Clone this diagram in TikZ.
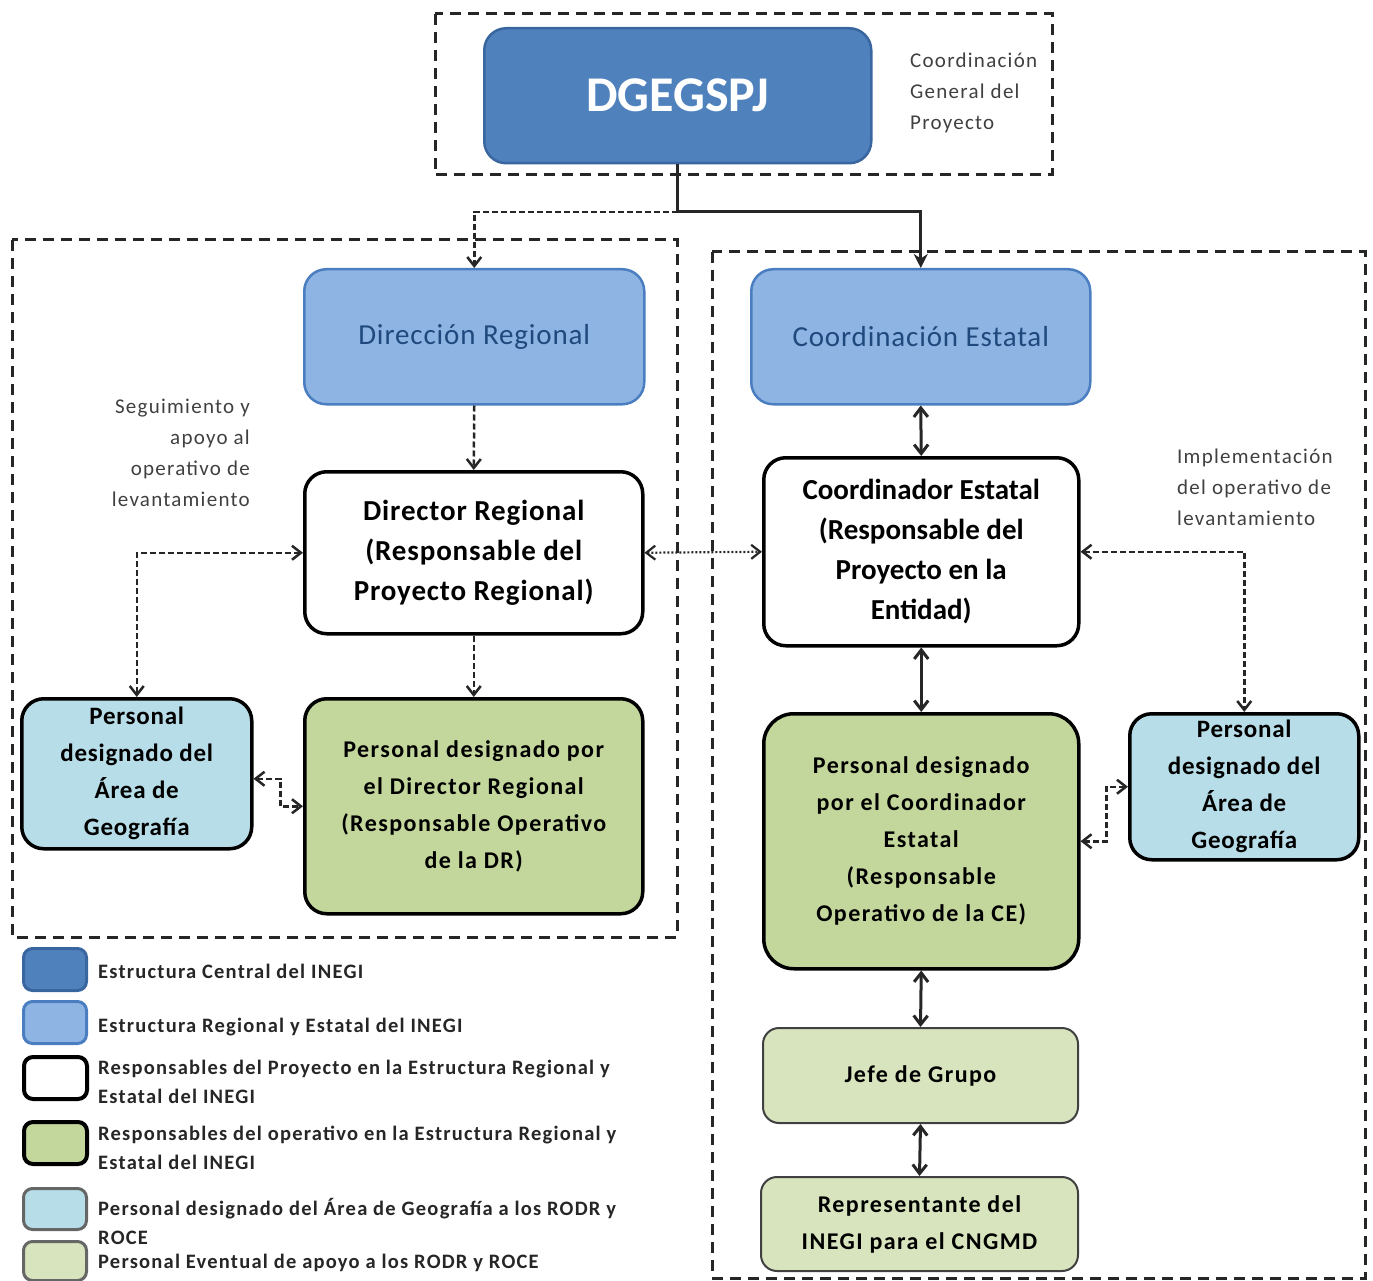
\documentclass[tikz,border=0pt]{standalone}
\usepackage{fontspec}
\setmainfont{Carlito}
\newfontfamily\wa[LetterSpace=6]{Carlito}
\newfontfamily\wb[LetterSpace=3]{Carlito}
\usetikzlibrary{arrows.meta}
\definecolor{dblue}{HTML}{4F81BD}
\definecolor{dblueb}{HTML}{3A66A0}
\definecolor{lblue}{HTML}{8EB4E3}
\definecolor{lblueb}{HTML}{4A7EC0}
\definecolor{txtblue}{HTML}{1F497D}
\definecolor{geo}{HTML}{B7DDE8}
\definecolor{opg}{HTML}{C3D69B}
\definecolor{lgreen}{HTML}{D7E4BD}
\definecolor{annot}{HTML}{404040}
\begin{document}
\begin{tikzpicture}[x=1pt,y=-1pt,
  box/.style={rounded corners=22, line width=3.5, align=center, inner sep=2, anchor=north west, text=black},
  dbox/.style={box, fill=dblue, draw=dblueb, line width=2.5, text=white},
  lbbox/.style={box, fill=lblue, draw=lblueb, line width=2.5, text=txtblue},
  wbox/.style={box, fill=white, draw=black},
  gbox/.style={box, fill=opg, draw=black},
  geobox/.style={box, fill=geo, draw=black},
  lgbox/.style={box, fill=lgreen, draw=black!75, line width=2, rounded corners=16},
  frame/.style={draw=black!85, line width=3, dash pattern=on 11pt off 7pt},
  dline/.style={draw=black!85, line width=2.5, dash pattern=on 6pt off 3pt},
  sline/.style={draw=black!85, line width=3},
  oline/.style={draw=black!85, line width=2.2, dash pattern=on 2pt off 2pt},
  tip/.style={-{Straight Barb[length=9pt,width=14pt]}},
  btip/.style={{Straight Barb[length=9pt,width=14pt]}-{Straight Barb[length=9pt,width=14pt]}},
  ann/.style={text=annot, font=\wa\fontsize{21}{31}\selectfont, inner sep=0},
  legt/.style={anchor=west, inner sep=0, font=\wa\bfseries\fontsize{20.5}{29}\selectfont, text=black!85, align=left},
  leg/.style={anchor=north west, rounded corners=9, minimum width=63, minimum height=42, line width=3}
]
\useasboundingbox (0,0) rectangle (1373,1281);

% dashed frames
\draw[frame] (435,14) rectangle (1052,175);
\draw[frame] (12,240) rectangle (677,937);
\draw[frame] (712,252) rectangle (1365,1278);

% top
\node[dbox, minimum width=387, minimum height=135, font=\bfseries\fontsize{50}{50}\selectfont] (dg) at (483,27) {DGEGSPJ};
\node[ann, anchor=north west, align=left] (cgp) at (910,53) {Coordinación\\General del\\Proyecto};

% second row
\node[lbbox, minimum width=340, minimum height=135, font=\wb\fontsize{29}{36}\selectfont] (dirreg) at (303,268) {Dirección Regional};
\node[lbbox, minimum width=339, minimum height=135, font=\wb\fontsize{29}{36}\selectfont] (coest) at (750,268) {Coordinación Estatal};

% responsables
\node[wbox, minimum width=338, minimum height=162, font=\wb\bfseries\fontsize{29}{40}\selectfont] (drr) at (303,470) {Director Regional\\(Responsable del\\Proyecto Regional)};
\node[wbox, minimum width=315, minimum height=188, font=\bfseries\fontsize{29}{40}\selectfont] (coe) at (762,456) {Coordinador Estatal\\(Responsable del\\Proyecto en la\\Entidad)};

% operativo
\node[gbox, minimum width=338, minimum height=215, font=\wa\bfseries\fontsize{24}{37}\selectfont] (pdr) at (303,697) {Personal designado por\\el Director Regional\\(Responsable Operativo\\de la DR)};
\node[gbox, minimum width=315, minimum height=255, rounded corners=30, font=\wa\bfseries\fontsize{24}{37}\selectfont] (pce) at (762,712) {Personal designado\\por el Coordinador\\Estatal\\(Responsable\\Operativo de la CE)};

% geografia
\node[geobox, minimum width=230, minimum height=150, font=\wb\bfseries\fontsize{25}{37}\selectfont] (geol) at (20,697) {Personal\\designado del\\Área de\\Geografía};
\node[geobox, minimum width=229, minimum height=146, font=\wb\bfseries\fontsize{25}{37}\selectfont] (geor) at (1128,712) {Personal\\designado del\\Área de\\Geografía};

% eventual
\node[lgbox, minimum width=315, minimum height=95, font=\wa\bfseries\fontsize{24}{37}\selectfont] (jefe) at (762,1027) {Jefe de Grupo};
\node[lgbox, minimum width=317, minimum height=94, font=\wa\bfseries\fontsize{24}{37}\selectfont] (rep) at (760,1176) {Representante del\\INEGI para el CNGMD};

% annotations
\node[ann, anchor=north east, align=right] (seg) at (250,399) {Seguimiento y\\apoyo al\\operativo de\\levantamiento};
\node[ann, anchor=north west, align=left] (impl) at (1177,449) {Implementación\\del operativo de\\levantamiento};

% connectors
\coordinate (j) at (dg.south |- 0,212);
\draw[sline] (dg.south) -- (j);
\draw[sline, -{Stealth[length=14pt,width=14pt]}] (j) -| (coest.north);
\draw[dline, tip] (j) -| (dirreg.north);
\draw[dline, tip] (dirreg.south) -- (drr.north);
\draw[sline, btip] (coest.south) -- (coe.north);
\draw[oline, btip] (drr.east) -- (coe.west);
\draw[dline, btip] (drr.west) -| (geol.north);
\draw[dline, tip] (drr.south) -- (pdr.north);
\draw[dline, btip] ([yshift=-5]geol.east) -- ++(27,0) |- (pdr.west);
\draw[dline, btip] (coe.east) -| (geor.north);
\draw[sline, btip] (coe.south) -- (pce.north);
\draw[dline, btip] (pce.east) -- ++(26,0) |- (geor.west);
\draw[sline, btip] (pce.south) -- (jefe.north);
\draw[sline, btip] (jefe.south) -- (rep.north);

% legend
\node[leg, fill=dblue, draw=dblueb] (l1) at (22,947) {};
\node[leg, fill=lblue, draw=lblueb] (l2) at (22,1000) {};
\node[leg, fill=white, draw=black, line width=4] (l3) at (22,1055) {};
\node[leg, fill=opg, draw=black, line width=4] (l4) at (22,1120) {};
\node[leg, fill=geo, draw=black!60, minimum height=41] (l5) at (22,1187) {};
\node[leg, fill=lgreen, draw=black!60, minimum height=39] (l6) at (22,1240) {};
\node[legt] (t1) at (98,971) {Estructura Central del INEGI};
\node[legt] (t2) at (98,1027) {Estructura Regional y Estatal del INEGI};
\node[legt] (t3) at (98,1082) {Responsables del Proyecto en la Estructura Regional y\\Estatal del INEGI};
\node[legt] (t4) at (98,1148) {Responsables del operativo en la Estructura Regional y\\Estatal del INEGI};
\node[legt] (t5) at (98,1221) {Personal designado del Área de Geografía a los RODR y\\ROCE};
\node[legt] (t6) at (98,1263) {Personal Eventual de apoyo a los RODR y ROCE};
\end{tikzpicture}
\end{document}
